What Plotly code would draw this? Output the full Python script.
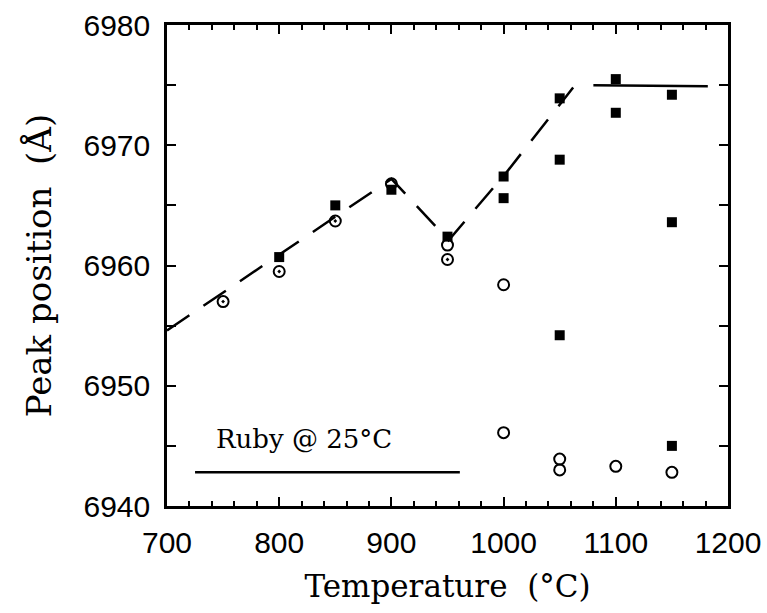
import plotly.graph_objects as go

# filled squares
sq_T = [800, 850, 900, 950, 1000, 1000, 1050, 1050, 1050, 1100, 1100, 1150, 1150, 1150]
sq_P = [6960.7, 6965.0, 6966.3, 6962.4, 6967.4, 6965.6, 6973.9, 6968.8, 6954.2, 6975.5, 6972.7, 6974.2, 6963.6, 6945.0]

# open circles with centre dot
cd_T = [750, 800, 850, 950]
cd_P = [6957.0, 6959.5, 6963.7, 6960.5]

# plain open circles
oc_T = [900, 950, 1000, 1000, 1050, 1050, 1100, 1150]
oc_P = [6966.8, 6961.7, 6958.4, 6946.1, 6943.9, 6943.0, 6943.3, 6942.8]

# dashed guide line
guide_T = [700, 900, 951, 1003, 1062]
guide_P = [6954.6, 6967.2, 6962.1, 6967.8, 6974.8]

# plateau line
plat_T = [1080, 1182]
plat_P = [6975.0, 6974.9]

# ruby reference line
ruby_T = [725, 961]
ruby_P = [6942.8, 6942.8]

x_ticks = [700, 800, 900, 1000, 1100, 1200]
y_ticks = [6940, 6950, 6960, 6970, 6980]

fig = go.Figure()
fig.add_trace(go.Scatter(x=guide_T, y=guide_P, mode="lines",
                         line=dict(color="black", width=2.5, dash="27px,17px"),
                         showlegend=False, hoverinfo="skip"))
fig.add_trace(go.Scatter(x=plat_T, y=plat_P, mode="lines",
                         line=dict(color="black", width=2.5), showlegend=False))
fig.add_trace(go.Scatter(x=ruby_T, y=ruby_P, mode="lines",
                         line=dict(color="black", width=2.5), showlegend=False))
fig.add_trace(go.Scatter(x=sq_T, y=sq_P, mode="markers",
                         marker=dict(symbol="square", size=10, color="black"),
                         showlegend=False))
fig.add_trace(go.Scatter(x=oc_T, y=oc_P, mode="markers",
                         marker=dict(symbol="circle-open", size=11, color="black",
                                     line=dict(width=2)),
                         showlegend=False))
fig.add_trace(go.Scatter(x=cd_T, y=cd_P, mode="markers",
                         marker=dict(symbol="circle-open-dot", size=11, color="black",
                                     line=dict(width=2)),
                         showlegend=False))

fig.add_annotation(x=742, y=6945.6, xref="x", yref="y", text="Ruby @ 25°C",
                   showarrow=False, xanchor="left", yanchor="middle",
                   font=dict(family="DejaVu Serif", size=26, color="black"))

axis_common = dict(showgrid=False, zeroline=False, showline=True, linecolor="black",
                   linewidth=2.5, mirror="ticks", ticks="inside", tickcolor="black",
                   tickwidth=2, ticklen=9, automargin=False)

fig.update_xaxes(range=[700, 1200], tickvals=x_ticks, ticktext=[str(v) for v in x_ticks],
                 minor=dict(dtick=20, tick0=700, ticks="inside", ticklen=5, tickwidth=1.5, tickcolor="black"),
                 tickfont=dict(family="Liberation Sans", size=30, color="black"),
                 ticklabelstandoff=8, ticklabeloverflow="allow",
                 title=dict(text="Temperature  (°C)", standoff=18,
                            font=dict(family="DejaVu Serif", size=31, color="black")),
                 **axis_common)
fig.update_yaxes(range=[6940, 6980], tickvals=y_ticks, ticktext=[str(v) for v in y_ticks],
                 minor=dict(dtick=5, tick0=6940, ticks="inside", ticklen=9, tickwidth=2, tickcolor="black"),
                 tickfont=dict(family="Liberation Sans", size=30, color="black"),
                 ticklabelstandoff=8,
                 title=dict(text="Peak position  (Å)", standoff=22,
                            font=dict(family="DejaVu Serif", size=34, color="black")),
                 **axis_common)

fig.update_layout(width=767, height=613, plot_bgcolor="white", paper_bgcolor="white",
                  margin=dict(l=167, r=39, t=25, b=107))
fig.write_html("out.html")
